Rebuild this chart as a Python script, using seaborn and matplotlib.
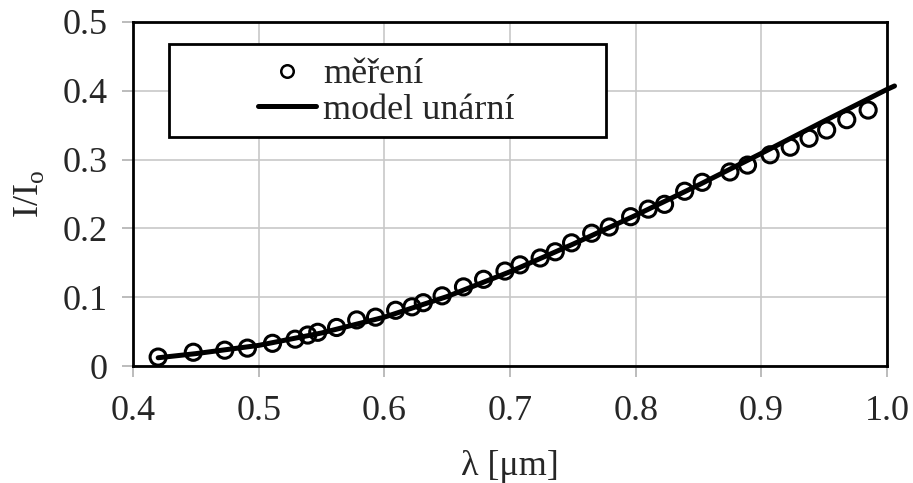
import numpy as np
import pandas as pd
import seaborn as sns
import matplotlib.pyplot as plt
from matplotlib.lines import Line2D
from matplotlib.patches import Rectangle

# measured points (wavelength in um, relative intensity)
lam_meas = [0.420, 0.448, 0.473, 0.491, 0.511, 0.529, 0.539, 0.547, 0.562,
            0.578, 0.593, 0.609, 0.622, 0.631, 0.646, 0.663, 0.679, 0.696,
            0.708, 0.724, 0.736, 0.749, 0.765, 0.779, 0.796, 0.810, 0.823,
            0.839, 0.853, 0.875, 0.889, 0.907, 0.923, 0.938, 0.952, 0.968,
            0.985]
i_meas = [0.013, 0.020, 0.023, 0.026, 0.033, 0.039, 0.045, 0.049, 0.056,
          0.067, 0.071, 0.081, 0.086, 0.092, 0.102, 0.115, 0.126, 0.138,
          0.147, 0.157, 0.166, 0.179, 0.193, 0.202, 0.217, 0.228, 0.235,
          0.254, 0.267, 0.282, 0.292, 0.307, 0.318, 0.331, 0.343, 0.358,
          0.372]

# unary model curve
lam_model = [0.42, 0.45, 0.50, 0.55, 0.60, 0.65, 0.70, 0.75, 0.80, 0.85,
             0.90, 0.95, 1.00, 1.006]
i_model = [0.012, 0.018, 0.030, 0.048, 0.071, 0.101, 0.137, 0.177, 0.219,
           0.263, 0.309, 0.356, 0.402, 0.407]

xticks = [0.4, 0.5, 0.6, 0.7, 0.8, 0.9, 1.0]
yticks = [0, 0.1, 0.2, 0.3, 0.4, 0.5]

meas = pd.DataFrame({'lam': lam_meas, 'I': i_meas})
model = pd.DataFrame({'lam': lam_model, 'I': i_model})

sns.set_style('white')
plt.rcParams['font.family'] = ['Liberation Serif', 'DejaVu Serif']
plt.rcParams['mathtext.fontset'] = 'custom'
plt.rcParams['mathtext.rm'] = 'Liberation Serif'

fig = plt.figure(figsize=(9.13, 4.83), dpi=100)
ax = fig.add_axes([0.1457, 0.2422, 0.8258, 0.7123])

sns.lineplot(data=model, x='lam', y='I', ax=ax, color='black', lw=3.6,
             sort=False, zorder=3, clip_on=False)
sns.scatterplot(data=meas, x='lam', y='I', ax=ax, marker='o', s=135,
                facecolor='none', edgecolor='black', linewidth=2.2, zorder=4)

ax.set_xlim(0.4, 1.0)
ax.set_ylim(0, 0.5)
ax.set_xticks(xticks)
ax.set_yticks(yticks)
ax.set_xticklabels(['0.4', '0.5', '0.6', '0.7', '0.8', '0.9', '1.0'])
ax.set_yticklabels(['0', '0.1', '0.2', '0.3', '0.4', '0.5'])
ax.grid(True, color='#c8c8c8', lw=1.2)
ax.set_axisbelow(True)
for s in ax.spines.values():
    s.set_visible(True)
    s.set_color('black')
    s.set_linewidth(2)
ax.tick_params(axis='both', which='major', direction='out', length=8,
               width=1.2, color='#b0b0b0', labelsize=26, pad=10,
               bottom=True, left=True)
ax.tick_params(axis='x', pad=13)

ax.set_xlabel('λ [μm]', fontsize=26, labelpad=16)
ax.set_ylabel('I/I$_{\\mathrm{o}}$', fontsize=26, labelpad=12)

# legend box drawn separately so it keeps the wide frame
ax.add_patch(Rectangle((0.0477, 0.666), 0.5796, 0.270, transform=ax.transAxes,
                       facecolor='white', edgecolor='black', lw=2, zorder=5))
handles = [Line2D([], [], marker='o', ls='none', mfc='white', mec='black',
                  ms=9, mew=1.8),
           Line2D([], [], color='black', lw=3.6)]
leg = ax.legend(handles, ['měření', 'model unární'], loc='upper left',
                bbox_to_anchor=(0.166, 0.895), frameon=False, fontsize=26,
                handlelength=1.6, handletextpad=0.2, labelspacing=0.06,
                borderpad=0, borderaxespad=0)
leg.set_zorder(6)

plt.savefig('out.png', dpi=100)
